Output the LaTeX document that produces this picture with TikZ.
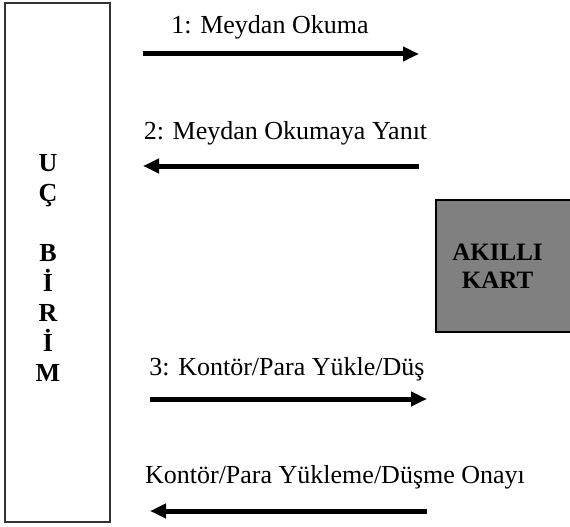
\documentclass[tikz,border=0pt]{standalone}
\usepackage{fontspec}
\setmainfont{Liberation Serif}
\usetikzlibrary{arrows.meta}
\begin{document}
\begin{tikzpicture}[x=1pt,y=-1pt,
  lbl/.style={inner sep=0pt,anchor=base,font=\fontsize{26}{30}\selectfont},
  msg/.style={line width=5pt,-{Triangle[length=16pt,width=14pt]}},
  bigtxt/.style={inner sep=0pt,align=center,anchor=base}]
\useasboundingbox (0,0) rectangle (570,527);
% Uc birim box
\draw[line width=2.5pt,black!80] (5,3) rectangle (110,522);
\node[bigtxt,font=\bfseries\fontsize{26}{30}\selectfont] (ub) at (48,381)
  {U\\Ç\\\mbox{}\\B\\İ\\R\\İ\\M};
% Akilli kart box (cut by the right edge)
\fill[gray] (436,200) rectangle (575,332);
\draw[line width=1.5pt] (575,200) -- (436,200) -- (436,332) -- (575,332);
\node[bigtxt,font=\bfseries\fontsize{25}{28}\selectfont] (ak) at (497.5,288) {AKILLI\\KART};
% coordinates
\coordinate (a1s) at (143,54);  \coordinate (a1e) at (419,54);
\coordinate (a2s) at (419,166); \coordinate (a2e) at (143,166);
\coordinate (a3s) at (150,399); \coordinate (a3e) at (427,399);
\coordinate (a4s) at (427,511); \coordinate (a4e) at (150,511);
\draw[msg] (a1s) -- (a1e);
\draw[msg] (a2s) -- (a2e);
\draw[msg] (a3s) -- (a3e);
\draw[msg] (a4s) -- (a4e);
% labels
\node[lbl] (l1) at (270,34) {1: Meydan Okuma};
\node[lbl] (l2) at (285.5,139) {2: Meydan Okumaya Yanıt};
\node[lbl] (l3) at (287,375) {3: Kontör/Para Yükle/Düş};
\node[lbl] (l4) at (335,483) {Kontör/Para Yükleme/Düşme Onayı};
\end{tikzpicture}
\end{document}
